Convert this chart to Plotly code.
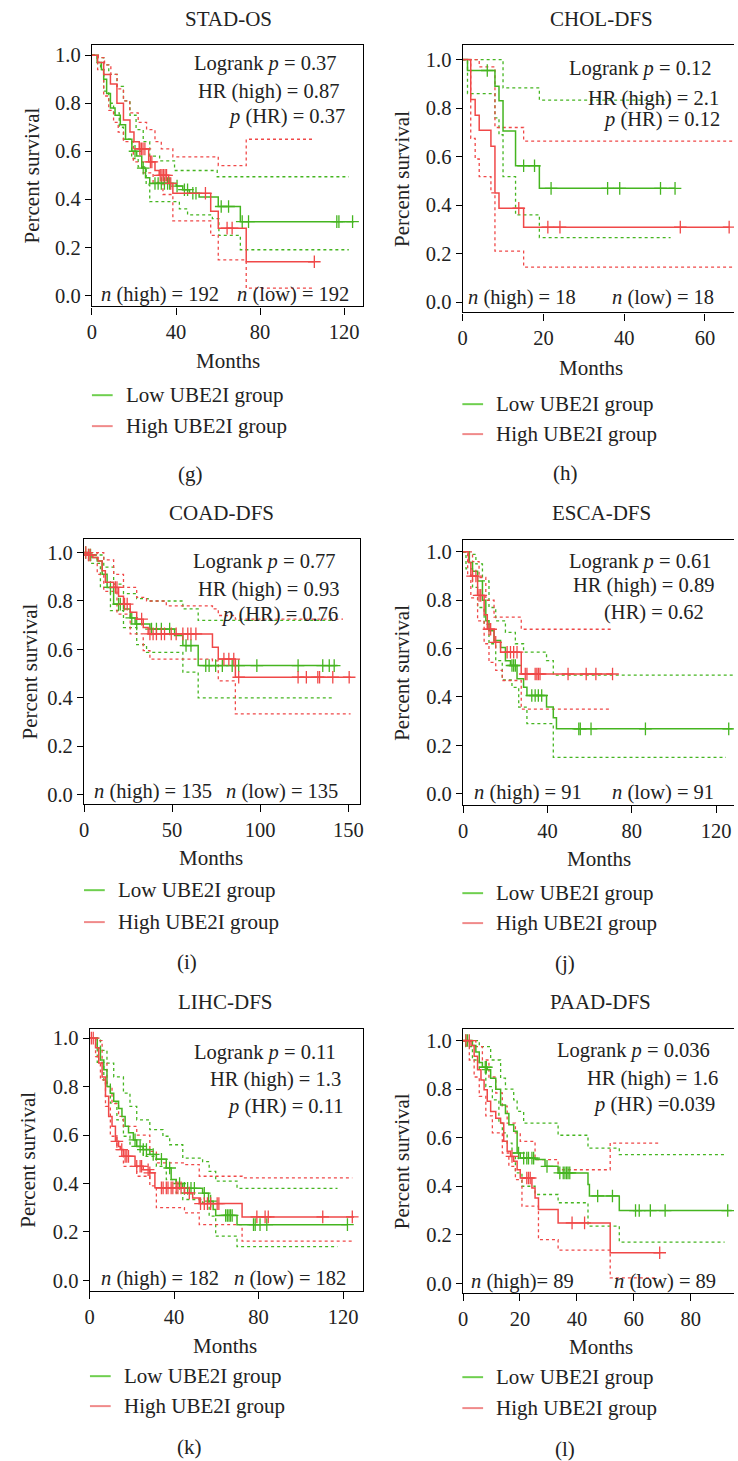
import plotly.graph_objects as go

W, H = 738, 1461
FONT = "Liberation Serif"
GREEN = "#45b520"
RED = "#f04848"
GREEN_LEG = "#6fcf4f"
RED_LEG = "#f08a8a"

# ---------------- data: Kaplan-Meier step curves (months, survival) ----------------
# STAD-OS
g_low_t = [0, 2.5, 4.5, 5.6, 7.0, 8.8, 11.0, 13.5, 16.0, 19.0, 21.3, 23.7, 25.5, 27.5, 40.1, 43.2, 46.4, 51.0, 60.1, 70.6, 124.6]
g_low_s = [1.0, 0.97, 0.94, 0.90, 0.84, 0.78, 0.75, 0.71, 0.65, 0.60, 0.58, 0.53, 0.49, 0.466, 0.455, 0.44, 0.425, 0.41, 0.37, 0.307, 0.307]
g_low_cens = [20.5, 24.4, 30.0, 31.5, 33.0, 34.5, 36.0, 37.0, 40.5, 44.0, 45.5, 48.0, 49.5, 61.5, 65.0, 71.5, 74.5, 116.5, 117.5, 124.0]
g_high_t = [0, 2.7, 5.6, 8.8, 11.9, 15.0, 18.1, 20.0, 22.5, 27.0, 30.0, 32.0, 36.5, 38.5, 56.5, 60.1, 73.4, 105.8]
g_high_s = [1.0, 0.97, 0.92, 0.88, 0.80, 0.73, 0.68, 0.64, 0.61, 0.556, 0.52, 0.50, 0.466, 0.425, 0.35, 0.28, 0.14, 0.14]
g_high_cens = [22.8, 23.5, 24.3, 25.2, 27.8, 28.5, 32.5, 33.3, 34.0, 34.8, 35.5, 37.5, 54.0, 64.3, 66.7, 105.8]
g_low_up_t = [0, 3, 5.6, 8, 11.9, 15, 18.1, 21, 24.4, 27.5, 32.2, 39.3, 59.6, 122.2]
g_low_up_s = [1.0, 0.99, 0.96, 0.92, 0.87, 0.81, 0.75, 0.69, 0.64, 0.58, 0.56, 0.52, 0.494, 0.494]
g_low_lo_t = [0, 2.5, 4.1, 5.6, 8, 10.3, 13, 15, 18.9, 22, 25.8, 27.5, 41.6, 45.5, 57.3, 60.4, 70.6, 122.2]
g_low_lo_s = [1.0, 0.97, 0.94, 0.85, 0.80, 0.76, 0.70, 0.65, 0.57, 0.535, 0.46, 0.39, 0.36, 0.335, 0.32, 0.25, 0.19, 0.19]
g_high_up_t = [0, 3, 6, 9, 12, 15, 18, 22, 26, 30, 33, 38.5, 60.1, 73.4, 105]
g_high_up_s = [1.0, 0.99, 0.96, 0.92, 0.86, 0.81, 0.76, 0.72, 0.69, 0.64, 0.61, 0.577, 0.54, 0.65, 0.65]
g_high_lo_t = [0, 2.7, 5.6, 8, 10.3, 12.5, 15, 19.7, 24.4, 29.1, 33.8, 38.5, 56.5, 60.1, 73.4, 105]
g_high_lo_s = [1.0, 0.94, 0.83, 0.77, 0.72, 0.68, 0.64, 0.556, 0.51, 0.47, 0.42, 0.31, 0.25, 0.148, 0.03, 0.03]

# CHOL-DFS
h_low_t = [0, 1.2, 8.0, 9.0, 10.0, 13.1, 19.0, 52.6]
h_low_s = [1.0, 0.955, 0.89, 0.83, 0.705, 0.562, 0.469, 0.469]
h_low_cens = [6.1, 15.1, 17.8, 21.9, 35.9, 38.9, 49.0, 52.6]
h_high_t = [0, 2.0, 3.1, 4.1, 7.0, 8.0, 9.0, 15.1, 66.0]
h_high_s = [1.0, 0.835, 0.77, 0.709, 0.643, 0.45, 0.387, 0.309, 0.309]
h_high_cens = [13.9, 21.1, 24.1, 53.9, 66.0]
h_low_up_t = [0, 10.0, 19.0, 51.5]
h_low_up_s = [1.0, 0.883, 0.833, 0.833]
h_low_lo_t = [0, 1.2, 8.0, 9.0, 10.0, 13.1, 19.0, 51.5]
h_low_lo_s = [1.0, 0.86, 0.76, 0.69, 0.517, 0.36, 0.266, 0.266]
h_high_up_t = [0, 4.1, 8.0, 15.1, 67.2]
h_high_up_s = [1.0, 0.97, 0.72, 0.664, 0.664]
h_high_lo_t = [0, 2.0, 3.1, 4.1, 7.0, 8.0, 15.1, 67.2]
h_high_lo_s = [1.0, 0.675, 0.59, 0.517, 0.45, 0.21, 0.144, 0.144]

# COAD-DFS
i_low_t = [0, 1.9, 4.5, 7.5, 10.3, 13.1, 16.8, 22.4, 26.2, 29.0, 37.4, 51.4, 56.1, 64.8, 143.9]
i_low_s = [1.0, 0.99, 0.98, 0.965, 0.91, 0.856, 0.787, 0.767, 0.73, 0.705, 0.684, 0.657, 0.616, 0.533, 0.533]
i_low_cens = [0.9, 2.8, 3.7, 15.0, 19.6, 20.6, 27.1, 29.9, 38.3, 41.1, 43.9, 48.6, 57.9, 60.7, 69.1, 71.0, 74.7,
              78.5, 84.1, 87.8, 98.1, 121.5, 135.5, 139.2, 142.0]
i_high_t = [0, 2.0, 5.0, 8.0, 10.3, 12.1, 16.8, 19.6, 22.4, 26.2, 29.9, 33.6, 36.4, 72.9, 76.2, 85.9, 151.3]
i_high_s = [1.0, 0.99, 0.98, 0.965, 0.925, 0.877, 0.856, 0.82, 0.787, 0.753, 0.725, 0.69, 0.664, 0.609, 0.56, 0.485, 0.485]
i_high_cens = [1.0, 2.5, 3.5, 17.8, 18.7, 23.0, 24.5, 32.7, 37.4, 39.2, 41.1, 43.9, 45.7, 49.5, 52.3, 56.1, 58.9,
               60.7, 63.5, 79.4, 82.2, 85.0, 87.8, 121.5, 126.2, 132.7, 133.7, 141.2, 150.5]
i_low_up_t = [0, 5, 11.2, 16.8, 22.4, 29.9, 36.4, 56.1, 64.8, 142]
i_low_up_s = [1.0, 0.99, 0.94, 0.87, 0.83, 0.81, 0.80, 0.767, 0.72, 0.72]
i_low_lo_t = [0, 3.7, 9.3, 15.0, 22.4, 29.9, 35.5, 56.1, 64.8, 142]
i_low_lo_s = [1.0, 0.955, 0.856, 0.76, 0.69, 0.62, 0.588, 0.506, 0.40, 0.40]
i_high_up_t = [0, 11.2, 16.8, 22.4, 29.9, 35.5, 46.7, 72.9, 76.2, 85.9, 147]
i_high_up_s = [1.0, 0.97, 0.91, 0.856, 0.815, 0.80, 0.78, 0.767, 0.74, 0.725, 0.725]
i_high_lo_t = [0, 7.5, 11.2, 18.7, 26.2, 33.6, 37.4, 72.9, 76.2, 85.9, 151.3]
i_high_lo_s = [1.0, 0.91, 0.84, 0.746, 0.664, 0.595, 0.56, 0.553, 0.47, 0.334, 0.334]

# ESCA-DFS
j_low_t = [0, 3.0, 4.5, 6.9, 9.2, 10.8, 12.3, 14.7, 17.8, 20.1, 22.5, 25.6, 28.7, 30.3, 39.6, 42.8, 44.3, 127.9]
j_low_s = [1.0, 0.956, 0.92, 0.88, 0.80, 0.715, 0.674, 0.633, 0.605, 0.55, 0.53, 0.475, 0.44, 0.406, 0.358, 0.314, 0.268, 0.268]
j_low_cens = [23.2, 24.0, 24.8, 32.6, 34.2, 35.7, 37.3, 54.9, 55.6, 60.7, 86.5, 126.0]
j_high_t = [0, 2.6, 3.7, 6.9, 10.0, 11.5, 14.7, 17.8, 27.6, 70.9]
j_high_s = [1.0, 0.956, 0.90, 0.82, 0.74, 0.68, 0.626, 0.585, 0.495, 0.495]
j_high_cens = [4.5, 6.1, 7.6, 8.4, 12.3, 13.1, 15.5, 20.9, 22.5, 24.0, 25.6, 29.5, 30.3, 34.2, 35.0, 35.7, 36.5,
               49.8, 58.4, 63.0, 70.9]
j_low_up_t = [0, 3.0, 6.1, 9.2, 12.3, 15.5, 20.1, 24.8, 28.7, 39.6, 42.8, 127.9]
j_low_up_s = [1.0, 0.99, 0.95, 0.88, 0.77, 0.715, 0.667, 0.62, 0.585, 0.55, 0.49, 0.49]
j_low_lo_t = [0, 1.4, 4.5, 6.9, 10.0, 12.3, 15.5, 18.6, 23.2, 26.4, 30.3, 42.8, 124.7]
j_low_lo_s = [1.0, 0.93, 0.853, 0.77, 0.70, 0.62, 0.55, 0.47, 0.44, 0.358, 0.29, 0.15, 0.15]
j_high_up_t = [0, 4.5, 7.6, 10.8, 14.7, 27.6, 70.1]
j_high_up_s = [1.0, 0.96, 0.894, 0.80, 0.73, 0.68, 0.68]
j_high_lo_t = [0, 2.2, 3.7, 6.9, 10.0, 12.3, 15.5, 18.6, 27.6, 70.1]
j_high_lo_s = [1.0, 0.91, 0.81, 0.715, 0.62, 0.543, 0.51, 0.468, 0.35, 0.35]

# LIHC-DFS
k_low_t = [0, 3.6, 5.1, 6.7, 8.2, 9.8, 11.4, 13.7, 15.3, 16.8, 18.4, 20.7, 22.3, 25.4, 28.5, 31.6, 36.3, 38.6,
           41.0, 44.1, 53.5, 56.3, 58.5, 59.7, 69.8, 122.1]
k_low_s = [1.0, 0.959, 0.91, 0.87, 0.80, 0.773, 0.74, 0.71, 0.677, 0.636, 0.61, 0.58, 0.553, 0.54, 0.52, 0.50,
           0.464, 0.416, 0.40, 0.38, 0.36, 0.327, 0.293, 0.268, 0.23, 0.23]
k_low_cens = [21.5, 23.9, 25.4, 26.9, 30.1, 34.0, 37.9, 42.6, 44.9, 46.4, 48.0, 49.6, 54.3, 57.3, 64.4, 65.2,
              66.0, 66.7, 67.5, 77.6, 78.4, 80.7, 83.9, 122.1]
k_high_t = [0, 2.8, 4.3, 5.9, 7.5, 9.0, 10.6, 12.2, 13.7, 14.5, 16.0, 21.5, 25.4, 28.5, 30.9, 44.9, 48.8, 51.9, 72.2, 125.2]
k_high_s = [1.0, 0.96, 0.897, 0.84, 0.76, 0.677, 0.636, 0.574, 0.553, 0.54, 0.512, 0.471, 0.457, 0.444, 0.382,
            0.361, 0.34, 0.317, 0.262, 0.262]
k_high_cens = [0.8, 1.7, 12.9, 15.2, 16.8, 17.6, 18.4, 22.3, 23.9, 24.6, 27.7, 28.5, 34.0, 34.8, 36.3, 37.1, 38.6,
               39.4, 41.0, 41.8, 43.3, 47.2, 52.5, 54.3, 55.8, 57.3, 60.4, 61.2, 79.2, 83.1, 84.6, 110.4, 124.4]
k_low_up_t = [0, 5.1, 8.2, 11.4, 16.0, 19.1, 22.3, 28.5, 34.7, 37.9, 44.1, 53.5, 56.6, 59.7, 69.8, 117.4]
k_low_up_s = [1.0, 0.95, 0.897, 0.84, 0.773, 0.718, 0.663, 0.622, 0.595, 0.56, 0.505, 0.49, 0.45, 0.41, 0.38, 0.38]
k_low_lo_t = [0, 3.6, 6.7, 9.8, 12.9, 16.0, 19.1, 25.4, 31.6, 36.3, 41.0, 44.1, 53.5, 56.6, 59.7, 69.8, 117.4]
k_low_lo_s = [1.0, 0.90, 0.815, 0.732, 0.663, 0.595, 0.553, 0.512, 0.471, 0.416, 0.361, 0.334, 0.32, 0.265,
              0.183, 0.139, 0.139]
k_high_up_t = [0, 3.6, 5.9, 8.2, 10.6, 13.7, 16.0, 22.3, 28.5, 31.6, 44.9, 51.9, 72.2, 124.4]
k_high_up_s = [1.0, 0.99, 0.897, 0.80, 0.73, 0.677, 0.636, 0.60, 0.533, 0.485, 0.478, 0.43, 0.423, 0.423]
k_high_lo_t = [0, 2.8, 5.1, 7.5, 9.8, 12.9, 16.0, 22.3, 28.5, 31.6, 44.9, 51.9, 72.2, 124.4]
k_high_lo_s = [1.0, 0.924, 0.828, 0.718, 0.595, 0.54, 0.471, 0.43, 0.39, 0.30, 0.279, 0.23, 0.162, 0.162]

# PAAD-DFS
l_low_t = [0, 3.3, 4.5, 5.7, 6.8, 8.5, 9.7, 11.5, 13.2, 14.9, 16.1, 17.8, 19.0, 20.1, 25.3, 28.8, 33.4, 43.9,
           44.4, 54.9, 94.4]
l_low_s = [1.0, 0.98, 0.953, 0.91, 0.89, 0.88, 0.845, 0.80, 0.735, 0.70, 0.653, 0.626, 0.537, 0.516, 0.51,
           0.482, 0.455, 0.407, 0.36, 0.30, 0.30]
l_low_cens = [1.0, 1.6, 7.8, 8.2, 19.5, 21.3, 22.4, 23.0, 24.2, 24.8, 29.5, 34.0, 35.2, 35.8, 36.4, 36.9, 37.5,
              47.3, 52.5, 60.6, 61.9, 65.8, 71.0, 93.0]
l_high_t = [0, 2.8, 3.9, 5.1, 6.3, 7.4, 8.5, 9.7, 11.5, 13.2, 14.3, 15.5, 16.7, 17.8, 19.0, 20.1, 24.2, 25.3,
            26.5, 33.4, 51.7, 69.3]
l_high_s = [1.0, 0.98, 0.935, 0.88, 0.838, 0.797, 0.75, 0.708, 0.68, 0.66, 0.585, 0.544, 0.523, 0.503, 0.468,
            0.434, 0.393, 0.352, 0.304, 0.249, 0.126, 0.126]
l_high_cens = [1.0, 2.2, 17.2, 22.4, 23.0, 23.6, 38.3, 42.7, 69.1]
l_low_up_t = [0, 5.7, 9.7, 13.2, 14.9, 17.8, 19.0, 21.3, 33.4, 43.9, 54.9, 91.9]
l_low_up_s = [1.0, 0.975, 0.92, 0.845, 0.80, 0.756, 0.708, 0.66, 0.61, 0.557, 0.53, 0.53]
l_low_lo_t = [0, 1.0, 3.3, 5.7, 8.0, 10.3, 12.6, 13.8, 15.5, 17.2, 18.4, 20.7, 25.3, 33.4, 43.9, 54.9, 91.9]
l_low_lo_s = [1.0, 0.975, 0.92, 0.88, 0.81, 0.756, 0.66, 0.62, 0.578, 0.537, 0.455, 0.40, 0.366, 0.332, 0.236, 0.17, 0.17]
l_high_up_t = [0, 4.5, 6.8, 9.1, 11.5, 13.8, 15.5, 18.4, 20.1, 25.3, 33.4, 51.7, 68.7]
l_high_up_s = [1.0, 0.975, 0.92, 0.85, 0.784, 0.73, 0.66, 0.62, 0.585, 0.51, 0.468, 0.578, 0.578]
l_high_lo_t = [0, 2.2, 3.9, 5.7, 8.0, 10.3, 13.8, 16.1, 18.4, 20.7, 26.5, 33.4, 51.7, 68.2]
l_high_lo_s = [1.0, 0.92, 0.85, 0.77, 0.69, 0.62, 0.537, 0.482, 0.427, 0.318, 0.18, 0.137, 0.023, 0.023]

# panel titles, statistics text and letters
titles = ["STAD-OS", "CHOL-DFS", "COAD-DFS", "ESCA-DFS", "LIHC-DFS", "PAAD-DFS"]
letters = ["(g)", "(h)", "(i)", "(j)", "(k)", "(l)"]
stat_lines = [
    ["Logrank <i>p</i> = 0.37", "HR (high) = 0.87", "<i>p</i> (HR) = 0.37"],
    ["Logrank <i>p</i> = 0.12", "HR (high) = 2.1", "<i>p</i> (HR) = 0.12"],
    ["Logrank <i>p</i> = 0.77", "HR (high) = 0.93", "<i>p</i> (HR) = 0.76"],
    ["Logrank <i>p</i> = 0.61", "HR (high) = 0.89", "(HR) = 0.62"],
    ["Logrank <i>p</i> = 0.11", "HR (high) = 1.3", "<i>p</i> (HR) = 0.11"],
    ["Logrank <i>p</i> = 0.036", "HR (high) = 1.6", "<i>p</i> (HR) =0.039"],
]
n_high = ["<i>n</i> (high) = 192", "<i>n</i> (high) = 18", "<i>n</i> (high) = 135",
          "<i>n</i> (high) = 91", "<i>n</i> (high) = 182", "<i>n</i> (high)= 89"]
n_low = ["<i>n</i> (low) = 192", "<i>n</i> (low) = 18", "<i>n</i> (low) = 135",
         "<i>n</i> (low) = 91", "<i>n</i> (low) = 182", "<i>n</i> (low) = 89"]
legend_labels = ["Low UBE2I group", "High UBE2I group"]

curves = [
    (g_low_t, g_low_s, g_low_cens, g_high_t, g_high_s, g_high_cens,
     (g_low_up_t, g_low_up_s), (g_low_lo_t, g_low_lo_s), (g_high_up_t, g_high_up_s), (g_high_lo_t, g_high_lo_s)),
    (h_low_t, h_low_s, h_low_cens, h_high_t, h_high_s, h_high_cens,
     (h_low_up_t, h_low_up_s), (h_low_lo_t, h_low_lo_s), (h_high_up_t, h_high_up_s), (h_high_lo_t, h_high_lo_s)),
    (i_low_t, i_low_s, i_low_cens, i_high_t, i_high_s, i_high_cens,
     (i_low_up_t, i_low_up_s), (i_low_lo_t, i_low_lo_s), (i_high_up_t, i_high_up_s), (i_high_lo_t, i_high_lo_s)),
    (j_low_t, j_low_s, j_low_cens, j_high_t, j_high_s, j_high_cens,
     (j_low_up_t, j_low_up_s), (j_low_lo_t, j_low_lo_s), (j_high_up_t, j_high_up_s), (j_high_lo_t, j_high_lo_s)),
    (k_low_t, k_low_s, k_low_cens, k_high_t, k_high_s, k_high_cens,
     (k_low_up_t, k_low_up_s), (k_low_lo_t, k_low_lo_s), (k_high_up_t, k_high_up_s), (k_high_lo_t, k_high_lo_s)),
    (l_low_t, l_low_s, l_low_cens, l_high_t, l_high_s, l_high_cens,
     (l_low_up_t, l_low_up_s), (l_low_lo_t, l_low_lo_s), (l_high_up_t, l_high_up_s), (l_high_lo_t, l_high_lo_s)),
]

# ---------------- layout geometry (pixels) ----------------
geom = [
    dict(box=(88, 43.3, 362.3, 305), y1=53.3, y0=294, xmax=128.9, dtick=40, clip=False,
         title_x=226, title_y=17, ylab_x=27, months=(226, 360), leg=(88, 394, 425), letter=(188, 473),
         stats=[(189, 62), (193, 90), (224, 115)], nh=(95, 293), nl=(233, 293)),
    dict(box=(463.3, 43.3, 738, 311), y1=57.7, y0=300.7, xmax=67.2, dtick=20, clip=True,
         title_x=604, title_y=17, ylab_x=402, months=(593, 367), leg=(463, 403, 433), letter=(567, 472),
         stats=[(569, 67), (588, 97), (603, 118)], nh=(467, 296), nl=(612, 296)),
    dict(box=(80, 538.3, 359.3, 804), y1=551.7, y0=794.3, xmax=156.6, dtick=50, clip=False,
         title_x=219, title_y=512, ylab_x=25, months=(209, 858), leg=(80, 890, 922), letter=(184, 962),
         stats=[(188, 561), (193, 589), (217, 614)], nh=(88, 791), nl=(222, 791)),
    dict(box=(463.7, 539.3, 738, 805), y1=551, y0=793.3, xmax=128.5, dtick=40, clip=True,
         title_x=604, title_y=512, ylab_x=402, months=(601, 859), leg=(463, 893, 923), letter=(567, 963),
         stats=[(569, 561), (573, 585), (604, 612)], nh=(473, 792), nl=(612, 792)),
    dict(box=(85.7, 1029, 362.7, 1291.7), y1=1038.3, y0=1281, xmax=129.6, dtick=40, clip=False,
         title_x=223, title_y=1002, ylab_x=23, months=(223, 1347), leg=(86, 1377, 1407), letter=(187, 1448),
         stats=[(189, 1053), (205, 1080), (223, 1107)], nh=(95, 1279), nl=(230, 1279)),
    dict(box=(463.7, 1029, 738, 1294), y1=1040.7, y0=1284, xmax=95.2, dtick=20, clip=True,
         title_x=603, title_y=1002, ylab_x=402, months=(603, 1348), leg=(463, 1378, 1409), letter=(567, 1450),
         stats=[(557, 1051), (587, 1079), (593, 1105)], nh=(470, 1282), nl=(614, 1282)),
]


def fx(px):
    return px / W


def fy(py):
    return 1 - py / H


def step_value(ts, ss, t):
    v = ss[0]
    for tt, s in zip(ts, ss):
        if tt <= t:
            v = s
    return v


fig = go.Figure()
annotations = []
shapes = []
txt = dict(family=FONT, size=20.5, color="#222")
big = dict(family=FONT, size=21, color="#222")
tickf = dict(family=FONT, size=20.5, color="#222")

for k, (g, c) in enumerate(zip(geom, curves)):
    lt, ls, lc, ht, hs, hc, lup, llo, hup, hlo = c
    ax = "" if k == 0 else str(k + 1)
    xa, ya = "x" + ax, "y" + ax
    left, top, right, bottom = g["box"]
    per = (g["y0"] - g["y1"])
    ytop = 1 + (g["y1"] - top) / per
    ybot = -(bottom - g["y0"]) / per

    # confidence bands (dotted)
    for (ct, cs), col in ((lup, GREEN), (llo, GREEN), (hup, RED), (hlo, RED)):
        fig.add_trace(go.Scatter(x=ct, y=cs, mode="lines", line=dict(color=col, width=1.3, dash="dot", shape="hv"),
                                 xaxis=xa, yaxis=ya, showlegend=False, hoverinfo="skip"))
    # survival curves with censoring ticks
    for ct, cs, cens, col in ((lt, ls, lc, GREEN), (ht, hs, hc, RED)):
        fig.add_trace(go.Scatter(x=ct, y=cs, mode="lines", line=dict(color=col, width=1.5, shape="hv"),
                                 xaxis=xa, yaxis=ya, showlegend=False))
        fig.add_trace(go.Scatter(x=cens, y=[step_value(ct, cs, t) for t in cens], mode="markers",
                                 marker=dict(symbol="cross-thin-open", size=9, color=col,
                                             line=dict(color=col, width=1.3)),
                                 xaxis=xa, yaxis=ya, showlegend=False))

    fig.layout["xaxis" + ax] = dict(
        domain=[fx(left), fx(right)], range=[0, g["xmax"]], anchor=ya, dtick=g["dtick"], tick0=0,
        showline=True, linecolor="black", linewidth=1.3, mirror=True, ticks="outside", ticklen=7,
        tickcolor="black", tickwidth=1.3, showgrid=False, zeroline=False,
        tickfont=tickf, ticklabelstandoff=0)
    fig.layout["yaxis" + ax] = dict(
        domain=[fy(bottom), fy(top)], range=[ybot, ytop], anchor=xa, dtick=0.2, tick0=0, tickformat=".1f",
        showline=True, linecolor="black", linewidth=1.3, mirror=not g["clip"], ticks="outside", ticklen=6,
        tickcolor="black", tickwidth=1.3, showgrid=False, zeroline=False, tickfont=tickf)

    annotations.append(dict(text=titles[k], x=fx(g["title_x"]), y=fy(g["title_y"]), xref="paper", yref="paper",
                            showarrow=False, font=big, xanchor="center", yanchor="middle"))
    annotations.append(dict(text="Percent survival", x=fx(g["ylab_x"]), y=fy((top + bottom) / 2), xref="paper",
                            yref="paper", showarrow=False, font=big, textangle=-90, xanchor="center", yanchor="middle"))
    for line, (sx, sy) in zip(stat_lines[k], g["stats"]):
        annotations.append(dict(text=line, x=fx(sx), y=fy(sy), xref="paper", yref="paper", showarrow=False,
                                font=txt, xanchor="left", yanchor="middle"))
    annotations.append(dict(text=n_high[k], x=fx(g["nh"][0]), y=fy(g["nh"][1]), xref="paper", yref="paper",
                            showarrow=False, font=txt, xanchor="left", yanchor="middle"))
    annotations.append(dict(text=n_low[k], x=fx(g["nl"][0]), y=fy(g["nl"][1]), xref="paper", yref="paper",
                            showarrow=False, font=txt, xanchor="left", yanchor="middle"))
    annotations.append(dict(text="Months", x=fx(g["months"][0]), y=fy(g["months"][1]), xref="paper", yref="paper",
                            showarrow=False, font=big, xanchor="center", yanchor="middle"))
    lx, ly1, ly2 = g["leg"]
    for lab, ly, col in ((legend_labels[0], ly1, GREEN_LEG), (legend_labels[1], ly2, RED_LEG)):
        shapes.append(dict(type="line", xref="paper", yref="paper", x0=fx(lx), x1=fx(lx + 21), y0=fy(ly), y1=fy(ly),
                           line=dict(color=col, width=2)))
        annotations.append(dict(text=lab, x=fx(lx + 32), y=fy(ly), xref="paper", yref="paper", showarrow=False,
                                font=big, xanchor="left", yanchor="middle"))
    annotations.append(dict(text=letters[k], x=fx(g["letter"][0]), y=fy(g["letter"][1]), xref="paper", yref="paper",
                            showarrow=False, font=big, xanchor="center", yanchor="middle"))

fig.update_layout(width=W, height=H, margin=dict(l=0, r=0, t=0, b=0), plot_bgcolor="white",
                  paper_bgcolor="white", annotations=annotations, shapes=shapes, showlegend=False)
fig.write_html("out.html")
